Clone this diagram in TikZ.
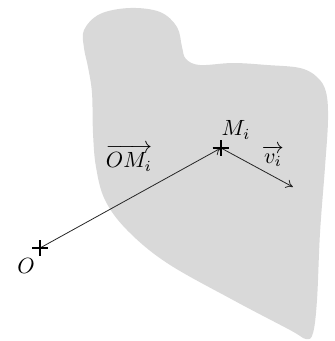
\documentclass[tikz,border=0pt]{standalone}
\usepackage{amsmath}
\usepackage{graphicx}
\usetikzlibrary{arrows.meta,calc}
\definecolor{blobgrey}{HTML}{D9D9D9}
\newcommand{\biglab}[1]{\scalebox{2.2}{$#1$}}
\tikzset{
  vec/.style={draw=black!85, line width=0.8pt, -{To[length=7pt,width=9pt]}},
  cross/.style={line width=2pt},
  lab/.style={inner sep=0pt}
}
\begin{document}
\begin{tikzpicture}[x=1pt,y=-1pt]
\useasboundingbox (0,0) rectangle (335,341);
\fill[blobgrey] plot[smooth cycle, tension=0.6] coordinates {
 (84,30) (100,14) (130,8) (160,12) (177,27) (182,47) (186,59) (200,65)
 (233,63) (267,65) (300,68) (317,77) (326,92) (328,120) (325,167)
 (320,233) (317,300) (313,333) (306,339) (290,330) (233,300) (167,263)
 (127,230) (105,200) (96,167) (93,133) (92,93) (88,67) (84,48)};
\coordinate (O) at (40,248);
\coordinate (M) at (221,148);
\coordinate (V) at (293,187);
\draw[vec] (O) -- (M);
\draw[vec] (M) -- (V);
\draw[cross] ($(O)+(-8,0)$) -- ($(O)+(8,0)$) ($(O)+(0,-8)$) -- ($(O)+(0,8)$);
\draw[cross] ($(M)+(-8,0)$) -- ($(M)+(8,0)$) ($(M)+(0,-8)$) -- ($(M)+(0,8)$);
\node[lab] (lO) at (26,266) {\biglab{O}};
\node[lab] (lM) at (236,130) {\biglab{M_i}};
\node[lab] (lOM) at (129,158) {\biglab{\overrightarrow{OM_i}}};
\node[lab] (lv) at (273,156) {\biglab{\overrightarrow{v_i}}};
\end{tikzpicture}
\end{document}
